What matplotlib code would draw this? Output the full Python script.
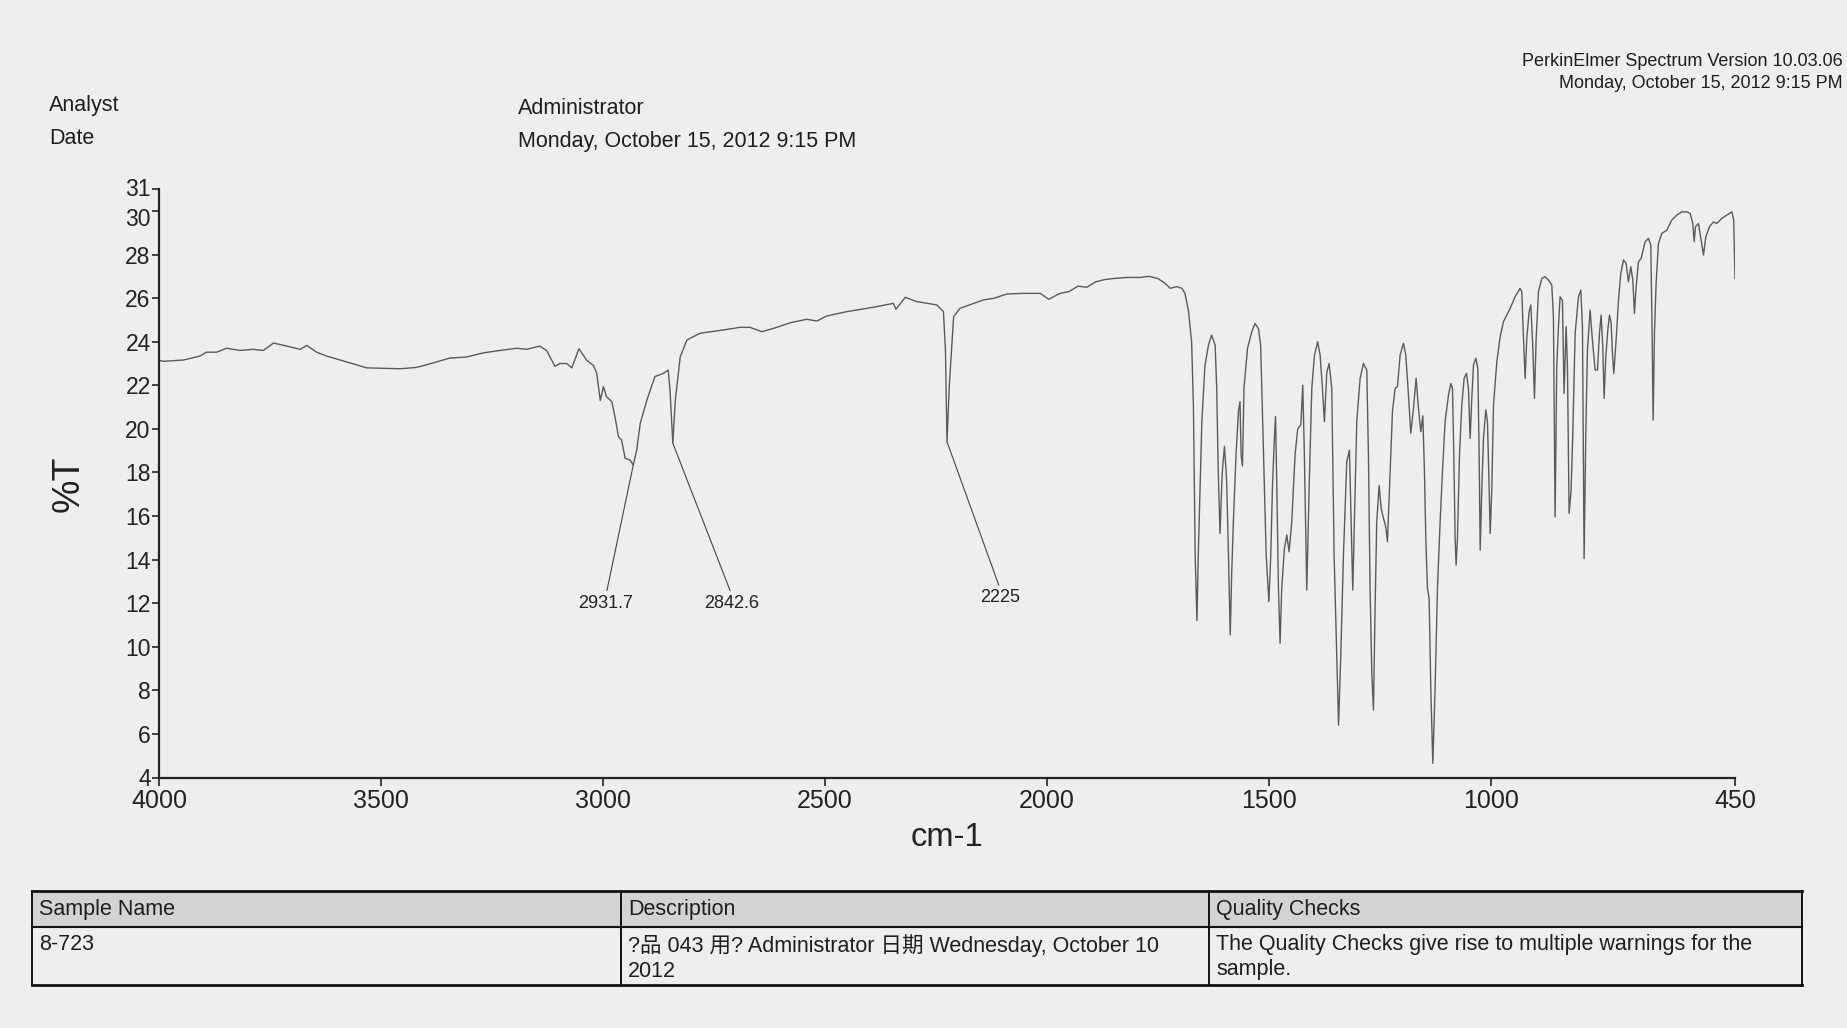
import matplotlib
matplotlib.use("Agg")
import matplotlib.pyplot as plt
from matplotlib import font_manager
from matplotlib.patches import Rectangle
from matplotlib.transforms import ScaledTranslation

# ---------------- data ----------------
wavenumber = [
    4000, 3990, 3945, 3908, 3893, 3870, 3848, 3818, 3788, 3765, 3742, 3712, 3682, 3667, 3645,
    3622, 3592, 3562, 3532, 3495, 3457, 3420, 3382, 3345, 3307, 3269, 3232, 3194, 3172, 3142,
    3127, 3108, 3097, 3082, 3070, 3054, 3037, 3021, 3014, 3006, 2999, 2992, 2980, 2973, 2965,
    2958, 2950, 2939, 2931.7, 2924, 2916, 2901, 2883, 2864, 2853, 2849, 2842.6, 2837, 2826,
    2811, 2781, 2729, 2691, 2669, 2642, 2616, 2578, 2541, 2518, 2496, 2451, 2391, 2346, 2340,
    2319, 2293, 2248, 2233, 2228.5, 2225, 2219.5, 2210, 2196, 2165, 2143, 2120, 2090, 2053,
    2015, 1996, 1970, 1950, 1930, 1910, 1890, 1870, 1850, 1820, 1790, 1770, 1750, 1735, 1722,
    1707, 1696, 1689, 1681, 1674, 1670, 1666, 1662, 1659, 1651, 1644, 1636, 1629, 1621, 1617.5,
    1614, 1610, 1605, 1600, 1595, 1591, 1587, 1583.6, 1580, 1574, 1568.5, 1565, 1562.5, 1559.5,
    1556, 1548, 1538.5, 1531, 1523.5, 1518.5, 1512, 1506, 1500, 1495.7, 1492, 1488, 1485, 1482,
    1478.4, 1474.7, 1471, 1465, 1459.6, 1454.4, 1448.4, 1441, 1435, 1428, 1423.6, 1420, 1414.6,
    1409.3, 1403.3, 1397.3, 1390, 1384.6, 1379.3, 1374.8, 1369.5, 1364.3, 1358.3, 1353, 1347,
    1343, 1338, 1332, 1324.5, 1318.5, 1314.7, 1311, 1305.7, 1302, 1294.4, 1287, 1279.4, 1275.7,
    1272, 1268.2, 1264.4, 1260.6, 1257, 1251.6, 1247.1, 1241.9, 1236.6, 1232.9, 1228.3, 1221.6,
    1215.6, 1210.3, 1204.3, 1196.8, 1191.6, 1185.5, 1180.3, 1174.3, 1168.3, 1163, 1157.7, 1153.2,
    1149.5, 1146.5, 1142.7, 1139, 1135.2, 1130.7, 1125.5, 1120.2, 1114.2, 1109, 1103, 1095.4,
    1090.2, 1086.4, 1083.4, 1080.4, 1078.2, 1075.2, 1070.6, 1065.4, 1060.1, 1054.9, 1050.4,
    1046.6, 1042.9, 1039.1, 1033.8, 1029.3, 1026.3, 1024, 1020.3, 1016.6, 1011.3, 1007.6, 1003.8,
    1001.5, 997.8, 994, 986.5, 979, 971.5, 964, 956.5, 945.2, 934, 930.2, 926.5, 922.7, 919,
    913.7, 909.9, 905.4, 901.7, 897.9, 892.7, 885.1, 877.7, 870.2, 862.7, 859, 855.2, 851.5,
    847.7, 844, 838.7, 835, 830.4, 827.4, 823.7, 819.2, 815.4, 810.1, 802.6, 797.4, 793.6, 789.9,
    786.1, 782.4, 776.4, 771.1, 765.1, 759.8, 755.3, 751.6, 747.8, 744.8, 741.1, 736.5, 732.8,
    729, 726, 723, 717.8, 712.5, 707.3, 701.2, 695.2, 690, 684.7, 680.2, 676.5, 672.7, 667.5,
    661.4, 652.4, 644.9, 639.7, 636.7, 634.4, 631.4, 627.7, 622.4, 614.9, 603.6, 592.4, 581.1,
    569.8, 558.6, 551.1, 545.1, 542, 539, 532.3, 526.3, 521, 515.7, 507.5, 498.5, 491, 479.7,
    468.5, 457.2, 453, 451.5, 450,
]
transmittance = [
    23.15, 23.1, 23.16, 23.34, 23.52, 23.52, 23.7, 23.6, 23.65, 23.6, 23.94, 23.8, 23.65, 23.83, 23.52,
    23.34, 23.16, 22.98, 22.8, 22.78, 22.76, 22.82, 23.03, 23.25, 23.3, 23.49, 23.6, 23.7, 23.65, 23.8,
    23.6, 22.87, 23.0, 23.0, 22.8, 23.68, 23.16, 22.9, 22.55, 21.3, 21.94, 21.48, 21.25, 20.56, 19.64,
    19.49, 18.65, 18.57, 18.34, 19.03, 20.25, 21.32, 22.4, 22.55, 22.7, 21.8, 19.34, 21.3, 23.3,
    24.08, 24.39, 24.54, 24.66, 24.66, 24.46, 24.61, 24.87, 25.03, 24.95, 25.18, 25.38, 25.58, 25.76, 25.49,
    26.04, 25.84, 25.69, 25.38, 23.6, 19.41, 22.09, 25.15, 25.53, 25.76, 25.92, 25.99, 26.19, 26.22,
    26.22, 25.95, 26.22, 26.3, 26.55, 26.5, 26.75, 26.85, 26.9, 26.95, 26.95, 27.0, 26.9, 26.7, 26.45,
    26.53, 26.45, 26.22, 25.4, 24.0, 21.1, 14.2, 11.2, 14.2, 20.3, 22.9, 23.85, 24.3, 23.85, 21.9,
    18.04, 15.2, 18.0, 19.2, 17.6, 14.2, 10.54, 13.45, 15.7, 18.8, 20.8, 21.25, 18.8, 18.3,
    21.9, 23.7, 24.46, 24.84, 24.6, 23.85, 18.8, 14.2, 12.07, 14.2, 17.27, 19.4, 20.56, 17.27,
    12.68, 10.16, 12.68, 14.5, 15.13, 14.36, 15.74, 18.8, 20.0, 20.18, 22.0, 18.8, 12.6,
    17.27, 21.86, 23.39, 24.0, 23.39, 21.86, 20.33, 22.6, 23.0, 21.86, 14.2, 9.6,
    6.4, 9.6, 14.2, 18.5, 19.03, 15.74, 12.6, 17.27, 20.33, 22.32, 23.0, 22.7, 18.8,
    12.68, 8.85, 7.1, 11.9, 15.74, 17.4, 16.35, 15.9, 15.5, 14.82, 17.27, 20.8,
    21.86, 21.94, 23.39, 23.93, 23.39, 21.55, 19.8, 20.94, 22.32, 20.94, 19.87, 20.6,
    18.03, 14.97, 12.68, 12.22, 8.09, 4.65, 8.09, 12.68, 15.74, 18.03, 20.33, 21.55,
    22.09, 21.86, 18.8, 14.97, 13.75, 14.97, 18.8, 21.1, 22.32, 22.55, 21.86,
    19.56, 21.4, 22.93, 23.24, 22.78, 18.8, 14.44, 17.27, 19.56, 20.87, 20.33, 17.27,
    15.2, 17.27, 21.1, 23.08, 24.23, 24.92, 25.23, 25.53, 26.07, 26.45, 26.3, 24.16, 22.32, 24.16,
    25.38, 25.69, 23.7, 21.4, 24.16, 26.3, 26.91, 26.98, 26.83, 26.6, 25.15, 15.96, 22.85,
    24.69, 26.06, 25.9, 21.63, 24.69, 22.85, 16.12, 17.19, 19.79, 24.38, 26.06, 26.37, 24.69, 14.05,
    19.79, 23.6, 25.45, 24.07, 22.7, 22.7, 24.38, 25.22, 23.77, 21.4, 23.3, 24.53, 25.22,
    24.84, 23.46, 22.54, 24.07, 25.91, 27.13, 27.75, 27.6, 26.75, 27.44, 26.83, 25.3, 26.52, 27.67,
    27.82, 28.59, 28.74, 28.43, 24.38, 20.4, 24.38, 26.68, 28.51, 28.97, 29.12, 29.58, 29.81,
    29.96, 29.96, 29.89, 29.43, 28.59, 29.28, 29.43, 28.66, 27.98, 28.82, 29.28, 29.5, 29.43, 29.66,
    29.81, 29.96, 29.6, 28.3, 26.9,
]

peak_wn = [2931.7, 2842.6, 2225]
peak_T = [18.34, 19.34, 19.41]
peak_labels = ["2931.7", "2842.6", "2225"]
peak_label_x = [2993, 2710, 2105]
peak_label_y = [12.0, 12.0, 12.25]

x_ticks = [4000, 3500, 3000, 2500, 2000, 1500, 1000, 450]
x_ticklabels = ["4000", "3500", "3000", "2500", "2000", "1500", "1000", "450"]
y_ticks = [4, 6, 8, 10, 12, 14, 16, 18, 20, 22, 24, 26, 28, 30, 31]
y_ticklabels = ["4", "6", "8", "10", "12", "14", "16", "18", "20", "22", "24", "26", "28", "30", "31"]

header_left = [("Analyst", "Administrator"), ("Date", "Monday, October 15, 2012 9:15 PM")]
header_right = ["PerkinElmer Spectrum Version 10.03.06", "Monday, October 15, 2012 9:15 PM"]
table_headers = ["Sample Name", "Description", "Quality Checks"]
table_row = ["8-723",
             "?品 043 用? Administrator 日期 Wednesday, October 10\n2012",
             "The Quality Checks give rise to multiple warnings for the\nsample."]

# ---------------- style ----------------
names = {f.name for f in font_manager.fontManager.ttflist}
base = "Liberation Sans" if "Liberation Sans" in names else "DejaVu Sans"
plt.rcParams["font.family"] = [base, "Noto Sans CJK SC", "DejaVu Sans"]

W, H = 1847, 1028
fig = plt.figure(figsize=(W / 100, H / 100), dpi=100)
bg = "#eeeeee"
fig.patch.set_facecolor(bg)

# page overlay in pixel coordinates
page = fig.add_axes([0, 0, 1, 1], zorder=0)
page.set_xlim(0, W)
page.set_ylim(H, 0)
page.axis("off")

# spectrum axes
L, R, T, B = 159, 1735, 189.2, 777.5
ax = fig.add_axes([L / W, 1 - B / H, (R - L) / W, (B - T) / H], zorder=2)
ax.patch.set_alpha(0)
ax.plot(wavenumber, transmittance, color="#5a5a5a", lw=1.0)
ax.set_xlim(4000, 450)
ax.set_ylim(4, 31)
for s in ["top", "right"]:
    ax.spines[s].set_visible(False)
for s in ["left", "bottom"]:
    ax.spines[s].set_linewidth(1.6)
    ax.spines[s].set_color("#222222")
ax.set_xticks(x_ticks)
ax.set_xticklabels(x_ticklabels)
ax.set_yticks(y_ticks)
ax.set_yticklabels(y_ticklabels)
ax.tick_params(axis="x", direction="out", length=6, width=1.2, labelsize=18, pad=2, colors="#222222")
ax.tick_params(axis="y", direction="out", length=5, width=1.2, labelsize=16.5, pad=1, colors="#222222")
ax.set_xlabel("cm-1", fontsize=23.5, labelpad=7, color="#222222")
ax.set_ylabel("%T", fontsize=27, labelpad=28, color="#222222")

# nudge the crowded "30" / "31" labels apart as in the printout
yt = ax.yaxis.get_major_ticks()
lab30 = yt[13].label1
lab30.set_transform(lab30.get_transform() + ScaledTranslation(0, -0.06, fig.dpi_scale_trans))
lab31 = yt[14].label1
lab31.set_transform(lab31.get_transform() + ScaledTranslation(0, 0.02, fig.dpi_scale_trans))

for wn, tv, lab, lx, ly in zip(peak_wn, peak_T, peak_labels, peak_label_x, peak_label_y):
    ax.annotate(lab, xy=(wn, tv), xytext=(lx, ly), textcoords="data",
                ha="center", va="center", fontsize=13, color="#222222",
                arrowprops=dict(arrowstyle="-", lw=0.8, color="#444444",
                                shrinkA=1, shrinkB=0, relpos=(0.5, 1.0)))

# header texts
tc = "#1e1e1e"
page.text(49, 106, header_left[0][0], fontsize=15.5, va="center", ha="left", color=tc)
page.text(518, 109, header_left[0][1], fontsize=15.5, va="center", ha="left", color=tc)
page.text(49, 138, header_left[1][0], fontsize=15.5, va="center", ha="left", color=tc)
page.text(518, 142, header_left[1][1], fontsize=15.5, va="center", ha="left", color=tc)
page.text(1843, 62, header_right[0], fontsize=13, va="center", ha="right", color=tc)
page.text(1843, 84, header_right[1], fontsize=13, va="center", ha="right", color=tc)

# table
tl, tr, tt, th, tb = 32, 1802, 891, 927, 985
cols = [32, 621, 1209, 1802]
page.add_patch(Rectangle((tl, tt), tr - tl, th - tt, facecolor="#d3d3d3", edgecolor="none"))
page.plot([tl, tr], [tt, tt], color="#111111", lw=2.0)
page.plot([tl, tr], [th, th], color="#111111", lw=1.5)
page.plot([tl, tr], [tb, tb], color="#111111", lw=2.0)
for c in cols:
    page.plot([c, c], [tt, tb], color="#111111", lw=1.4)
for i in range(3):
    page.text(cols[i] + 7, 910, table_headers[i], fontsize=15.5, va="center", ha="left", color=tc)
    page.text(cols[i] + 7, 934, table_row[i], fontsize=15.5, va="top", ha="left", color=tc,
              linespacing=1.25)

fig.savefig("out.png", dpi=100, facecolor=bg)
